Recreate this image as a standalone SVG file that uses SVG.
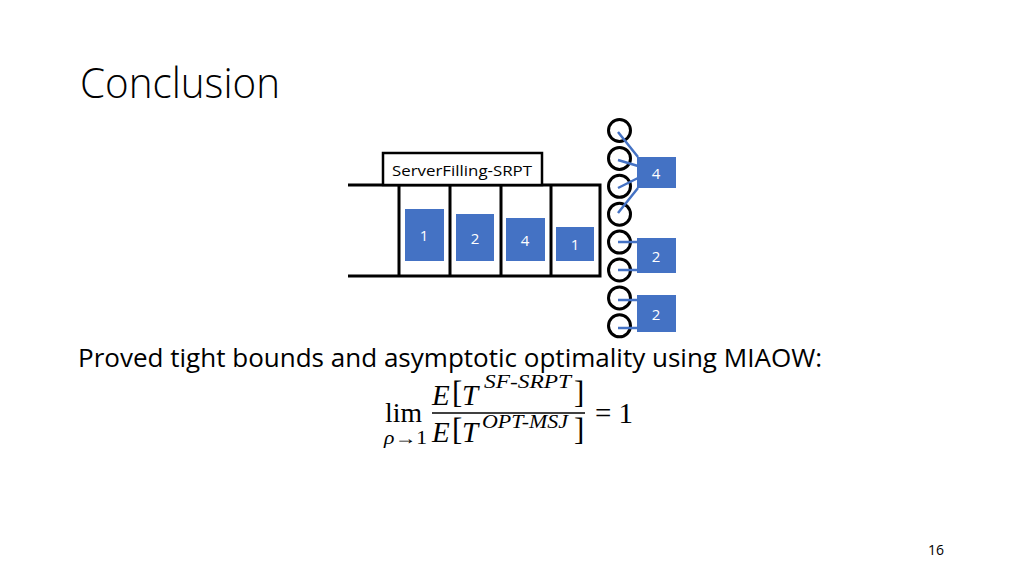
<svg xmlns="http://www.w3.org/2000/svg" width="1024" height="576" viewBox="0 0 1024 576">
<style>
.t{font-family:"Open Sans","Liberation Sans",sans-serif;fill:#000}
.w{font-family:"Open Sans","Liberation Sans",sans-serif;fill:#fff;font-size:15px;text-anchor:middle}
.m{font-family:"Liberation Serif","DejaVu Serif",serif;fill:#000;font-style:italic}
.mr{font-family:"Liberation Serif","DejaVu Serif",serif;fill:#000}
.job{fill:#4472C4}
.blk{fill:none;stroke:#000;stroke-width:3}
.srv{fill:#fff;stroke:#000;stroke-width:3}
.ln{stroke:#4472C4;stroke-width:2.5;fill:none}
</style>
<rect width="1024" height="576" fill="#fff"/>
<text class="t" x="80" y="98" font-size="42" font-weight="300" textLength="200" lengthAdjust="spacingAndGlyphs">Conclusion</text>

<g id="queue">
<path class="blk" d="M348 185H600V276H348M399 185V276M450 185V276M501 185V276M551 185V276"/>
</g>
<g id="label">
<rect x="383" y="153" width="159" height="32" fill="#fff" stroke="#000" stroke-width="2.5"/>
<text class="t" x="392" y="176" font-size="15" textLength="140" lengthAdjust="spacingAndGlyphs">ServerFilling-SRPT</text>
</g>
<g id="job1"><rect class="job" x="405" y="209" width="39" height="52"/><text class="w" x="424" y="241">1</text></g>
<g id="job2"><rect class="job" x="456" y="214" width="38" height="47"/><text class="w" x="475" y="244">2</text></g>
<g id="job3"><rect class="job" x="506" y="218" width="39" height="43"/><text class="w" x="525" y="246">4</text></g>
<g id="job4"><rect class="job" x="556" y="227" width="38" height="34"/><text class="w" x="575" y="250">1</text></g>

<g id="servers">
<circle class="srv" cx="619.5" cy="130.5" r="11"/>
<circle class="srv" cx="619.5" cy="158.4" r="11"/>
<circle class="srv" cx="619.5" cy="186.3" r="11"/>
<circle class="srv" cx="619.5" cy="214.2" r="11"/>
<circle class="srv" cx="619.5" cy="242.1" r="11"/>
<circle class="srv" cx="619.5" cy="270" r="11"/>
<circle class="srv" cx="619.5" cy="297.9" r="11"/>
<circle class="srv" cx="619.5" cy="325.8" r="11"/>
</g>
<g id="svc4"><rect class="job" x="637" y="157" width="39" height="31"/><text class="w" x="656" y="179">4</text></g>
<g id="svc2a"><rect class="job" x="637" y="238" width="39" height="35"/><text class="w" x="656" y="262">2</text></g>
<g id="svc2b"><rect class="job" x="637" y="295" width="39" height="37"/><text class="w" x="656" y="320">2</text></g>
<g id="connectors">
<path class="ln" d="M618 132L638 157M618 160L638 166M618 188L638 178M618 213L638 188M618 242H638M618 270H638M618 300H638M618 328H638"/>
</g>

<text class="t" x="78" y="367" font-size="25" textLength="744" lengthAdjust="spacingAndGlyphs">Proved tight bounds and asymptotic optimality using MIAOW:</text>

<g id="formula">
<text class="mr" x="385" y="422" font-size="27" textLength="37" lengthAdjust="spacingAndGlyphs">lim</text>
<text class="m" x="384" y="444" font-size="18" textLength="43" lengthAdjust="spacingAndGlyphs">ρ<tspan font-style="normal">→1</tspan></text>
<text class="m" x="432" y="405" font-size="29">E</text>
<text class="mr" x="452" y="403" font-size="31">[</text>
<text class="m" x="462" y="405" font-size="29">T</text>
<text class="m" x="484" y="388" font-size="18" textLength="87" lengthAdjust="spacingAndGlyphs">SF-SRPT</text>
<text class="mr" x="574" y="403" font-size="31">]</text>
<line x1="432" y1="413" x2="585" y2="413" stroke="#000" stroke-width="1.5"/>
<text class="m" x="432" y="442" font-size="29">E</text>
<text class="mr" x="452" y="440" font-size="31">[</text>
<text class="m" x="462" y="442" font-size="29">T</text>
<text class="m" x="482" y="428" font-size="19" textLength="86" lengthAdjust="spacingAndGlyphs">OPT-MSJ</text>
<text class="mr" x="574" y="440" font-size="31">]</text>
<text class="mr" x="595" y="423" font-size="29">= 1</text>
</g>

<text class="t" x="928" y="555" font-size="14">16</text>
</svg>
